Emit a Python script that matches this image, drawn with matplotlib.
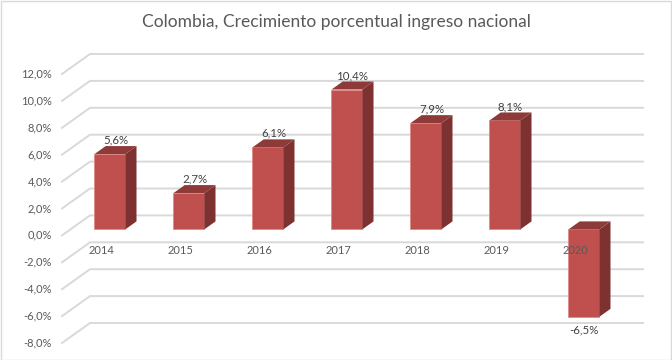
import matplotlib.pyplot as plt
from matplotlib.patches import Polygon, Rectangle

years = ['2014', '2015', '2016', '2017', '2018', '2019', '2020']
growth = [5.6, 2.7, 6.1, 10.4, 7.9, 8.1, -6.5]
yticks = [12, 10, 8, 6, 4, 2, 0, -2, -4, -6, -8]

plt.rcParams['font.family'] = ['Lato', 'DejaVu Sans']

W, H = 672, 360
fig = plt.figure(figsize=(W / 100, H / 100), dpi=100)
fig.patches.append(Rectangle((0.5 / W, 0.5 / H), 1 - 1.5 / W, 1 - 1.5 / H,
                             transform=fig.transFigure, fill=False,
                             edgecolor='#d9d9d9', lw=1))

ax = fig.add_axes([62 / W, 17 / H, 553 / W, 269 / H])
ax.set_xlim(-0.5, 6.5)
ax.set_ylim(-8, 12)
ax.axis('off')

# depth of the 3d box in pixels -> data units
px_cat = ax.bbox.width / 7
px_unit = ax.bbox.height / 20
DX = 28 / px_cat
DY = 20 / px_unit

grid = '#d9d9d9'
for t in yticks:
    ax.plot([-0.5, -0.5 + DX, 6.5 + DX], [t, t + DY, t + DY], color=grid,
            lw=1.4, clip_on=False, zorder=1)
    ax.text(-0.5 - 10 / px_cat, t, f'{t:.1f}%'.replace('.', ','),
            ha='right', va='center', fontsize=8, color='#595959')

front = '#c0504d'
side = '#7d3231'
top = '#8e3a38'
w = 0.39
d0, d1 = 0.3, 0.7
for i, v in enumerate(growth):
    x0 = i - w / 2 + d0 * DX
    x1 = x0 + w
    b = d0 * DY
    ax.bar(x0, v, width=w, bottom=b, align='edge', color=front,
           edgecolor='#e08a88', lw=0.6, zorder=3)
    ex, ey = (d1 - d0) * DX, (d1 - d0) * DY
    ax.add_patch(Polygon([(x1, b), (x1, b + v), (x1 + ex, b + v + ey), (x1 + ex, b + ey)],
                         closed=True, facecolor=side, edgecolor='none', zorder=3))
    htop = b + max(v, 0)
    ax.add_patch(Polygon([(x0, htop), (x1, htop), (x1 + ex, htop + ey), (x0 + ex, htop + ey)],
                         closed=True, facecolor=top, edgecolor='none', zorder=3))
    lab = f'{v:.1f}%'.replace('.', ',')
    if v >= 0:
        ax.text(i + 0.5 * DX, b + v + 14 / px_unit, lab, ha='center', va='center',
                fontsize=8.3, color='#404040', zorder=5)
    else:
        ax.text(i + d0 * DX, b + v - 13 / px_unit, lab, ha='center', va='center',
                fontsize=8.3, color='#404040', zorder=5)
    ax.text(i, -15 / px_unit, years[i], ha='center', va='center',
            fontsize=8, color='#595959', zorder=5)

fig.text(0.5, 1 - 22 / H, 'Colombia, Crecimiento porcentual ingreso nacional',
         ha='center', va='center', fontsize=12.5, color='#595959')

fig.savefig('out.png', dpi=100)
